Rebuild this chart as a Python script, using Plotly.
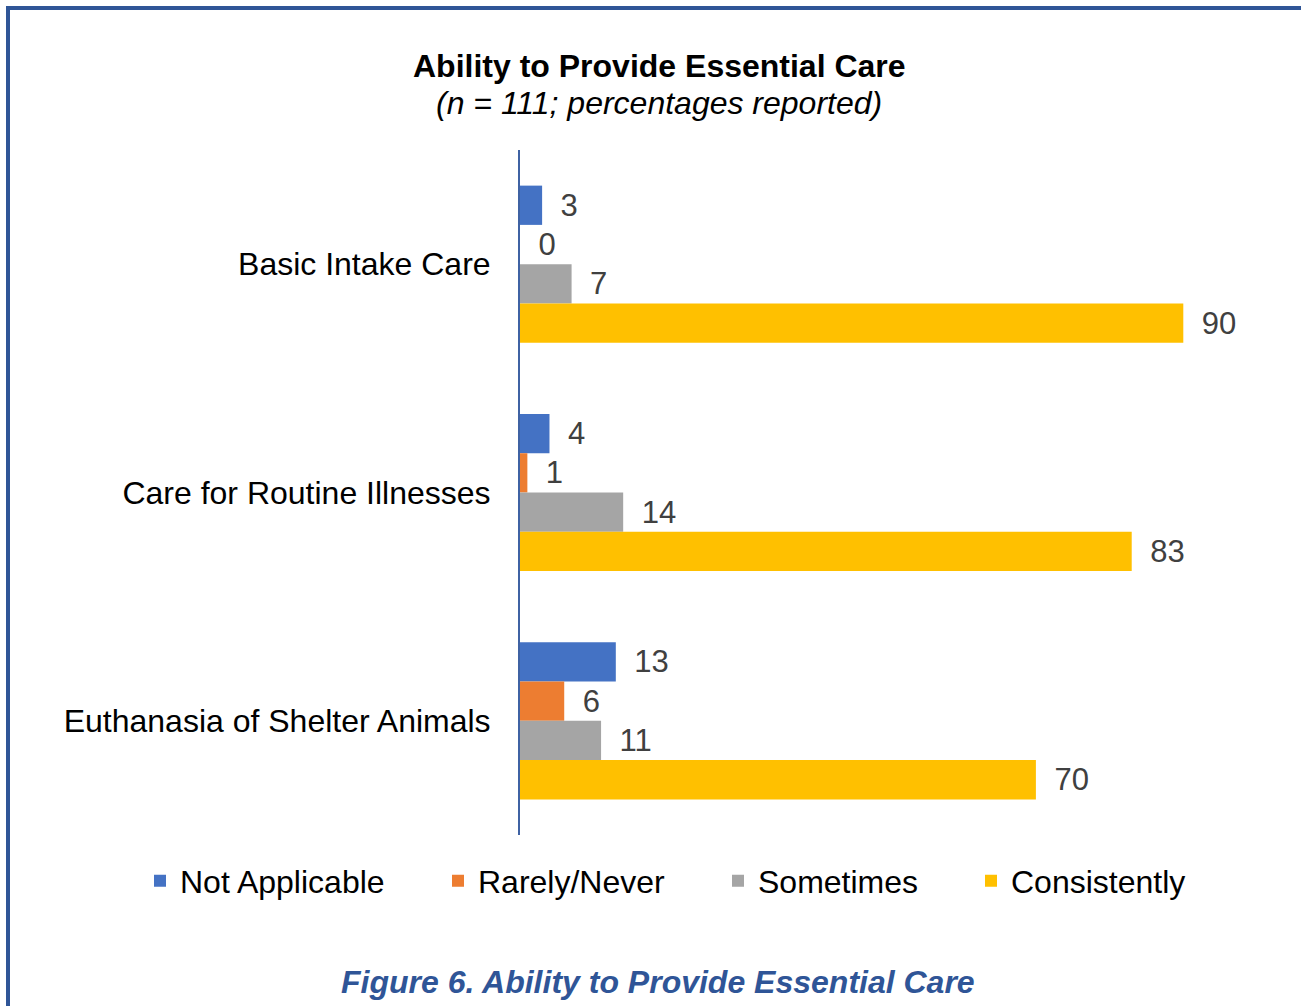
import plotly.graph_objects as go

# Survey results (percent of respondents, n = 111)
categories = ["Basic Intake Care", "Care for Routine Illnesses", "Euthanasia of Shelter Animals"]
not_applicable = [3, 4, 13]
rarely_never = [0, 1, 6]
sometimes = [7, 14, 11]
consistently = [90, 83, 70]

series_names = ["Not Applicable", "Rarely/Never", "Sometimes", "Consistently"]
series_values = [not_applicable, rarely_never, sometimes, consistently]
series_colors = ["#4472C4", "#ED7D31", "#A5A5A5", "#FFC000"]

W, H = 1301, 1006
FONT = "Liberation Sans, Arial, sans-serif"
BORDER = "#2F5597"


def px_x(x):
    return x / W


def px_y(y):
    return 1 - y / H


# one legend per series so each entry sits at its own spot in the row
legend_ids = ["legend", "legend2", "legend3", "legend4"]
legend_x = [140, 438, 718, 971]

fig = go.Figure()
for name, vals, color, lid in zip(series_names, series_values, series_colors, legend_ids):
    fig.add_trace(go.Bar(
        y=categories,
        x=vals,
        name=name,
        orientation="h",
        marker=dict(color=color, line=dict(width=0)),
        text=["\u2002" + str(v) for v in vals],
        textposition="outside",
        constraintext="none",
        cliponaxis=False,
        outsidetextfont=dict(family=FONT, size=31, color="#404040"),
        legend=lid,
        hoverinfo="x+name",
    ))

layout_legends = {}
for lid, lx in zip(legend_ids, legend_x):
    layout_legends[lid] = dict(
        x=px_x(lx), xanchor="left",
        y=px_y(881), yanchor="middle",
        orientation="h",
        font=dict(family=FONT, size=32, color="#000000"),
        bgcolor="rgba(0,0,0,0)",
        borderwidth=0,
    )

fig.update_layout(
    width=W, height=H,
    margin=dict(l=0, r=0, t=0, b=0),
    paper_bgcolor="white",
    plot_bgcolor="white",
    barmode="group",
    bargap=0.312,
    bargroupgap=0,
    showlegend=True,
    xaxis=dict(
        domain=[px_x(520), px_x(1257)],
        range=[0, 100],
        showgrid=False, zeroline=False, showline=False,
        showticklabels=False, ticks="",
        fixedrange=True,
    ),
    yaxis=dict(
        domain=[px_y(835), px_y(150)],
        autorange="reversed",
        showgrid=False, zeroline=False,
        showline=True, linecolor="#3F62A3", linewidth=2,
        ticks="", ticklabelstandoff=21,
        tickfont=dict(family=FONT, size=32, color="#000000"),
        fixedrange=True,
    ),
    **layout_legends,
)

# titles and caption
fig.add_annotation(
    text="<b>Ability to Provide Essential Care</b>",
    x=px_x(659), y=px_y(66), xref="paper", yref="paper",
    xanchor="center", yanchor="middle", showarrow=False,
    font=dict(family=FONT, size=32, color="#000000"),
)
fig.add_annotation(
    text="<i>(n = 111; percentages reported)</i>",
    x=px_x(659), y=px_y(103), xref="paper", yref="paper",
    xanchor="center", yanchor="middle", showarrow=False,
    font=dict(family=FONT, size=32, color="#000000"),
)
fig.add_annotation(
    text="<b><i>Figure 6. Ability to Provide Essential Care</i></b>",
    x=px_x(658), y=px_y(982), xref="paper", yref="paper",
    xanchor="center", yanchor="middle", showarrow=False,
    font=dict(family=FONT, size=32, color=BORDER),
)

# page frame: top and left rules
fig.add_shape(type="line", xref="paper", yref="paper",
              x0=px_x(6), x1=1, y0=px_y(8), y1=px_y(8),
              line=dict(color=BORDER, width=4))
fig.add_shape(type="line", xref="paper", yref="paper",
              x0=px_x(8), x1=px_x(8), y0=px_y(6), y1=0,
              line=dict(color=BORDER, width=4))

fig.write_html("out.html")
